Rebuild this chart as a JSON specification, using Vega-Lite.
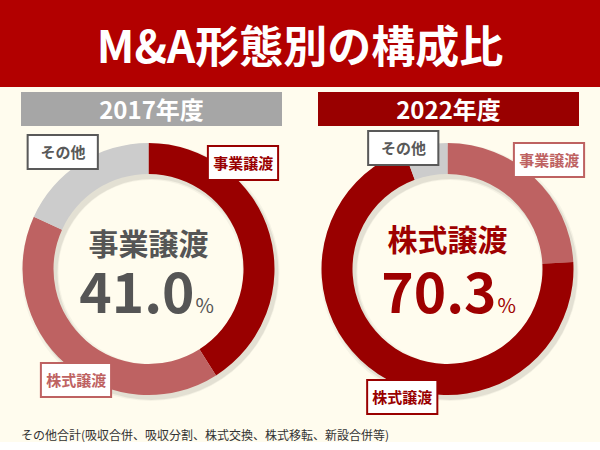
{
  "$schema": "https://vega.github.io/schema/vega-lite/v6.json",
  "background": "#fffcee",
  "padding": 0,
  "config": {"view": {"stroke": null}, "font": "Noto Sans CJK JP", "text": {"font": "Noto Sans CJK JP"}},
  "datasets": {
    "shares": [
      {"year": "2017年度", "category": "事業譲渡", "share": 41.0},
      {"year": "2017年度", "category": "株式譲渡", "share": 40.8},
      {"year": "2017年度", "category": "その他", "share": 18.2},
      {"year": "2022年度", "category": "事業譲渡", "share": 24.1},
      {"year": "2022年度", "category": "株式譲渡", "share": 70.3},
      {"year": "2022年度", "category": "その他", "share": 5.6}
    ]
  },
  "bounds": "flush",
  "spacing": 5,
  "vconcat": [
    {
      "width": 600,
      "height": 87,
      "view": {"fill": "#b20000", "stroke": null},
      "data": {"values": [{"title": "M&A形態別の構成比"}]},
      "mark": {"type": "text", "color": "#ffffff", "fontSize": 44, "fontWeight": "bold", "baseline": "alphabetic", "dy": 19},
      "encoding": {"text": {"field": "title", "type": "nominal"}}
    },
    {
      "columns": 4,
      "align": "each",
      "bounds": "flush",
      "spacing": {"row": 0, "column": 0},
      "resolve": {"scale": {"color": "independent", "theta": "independent"}},
      "concat": [
        {"width": 21, "height": 34, "data": {"values": []}, "mark": "point"},
        {
          "width": 261,
          "height": 34,
          "view": {"fill": "#a6a6a6", "stroke": null},
          "data": {"name": "shares"},
          "transform": [{"filter": "datum.year === '2017年度'"}, {"aggregate": [{"op": "count", "as": "n"}], "groupby": ["year"]}],
          "mark": {"type": "text", "color": "#ffffff", "fontSize": 24, "fontWeight": "bold", "baseline": "alphabetic", "dy": 10},
          "encoding": {"text": {"field": "year", "type": "nominal"}}
        },
        {"width": 36, "height": 34, "data": {"values": []}, "mark": "point"},
        {
          "width": 261,
          "height": 34,
          "view": {"fill": "#990000", "stroke": null},
          "data": {"name": "shares"},
          "transform": [{"filter": "datum.year === '2022年度'"}, {"aggregate": [{"op": "count", "as": "n"}], "groupby": ["year"]}],
          "mark": {"type": "text", "color": "#ffffff", "fontSize": 24, "fontWeight": "bold", "baseline": "alphabetic", "dy": 10},
          "encoding": {"text": {"field": "year", "type": "nominal"}}
        },
        {"width": 21, "height": 286, "data": {"values": []}, "mark": "point"},
        {
          "width": 255,
          "height": 286,
          "title": {
            "text": "その他合計(吸収合併、吸収分割、株式交換、株式移転、新設合併等)",
            "orient": "bottom",
            "anchor": "start",
            "frame": "group",
            "baseline": "top",
            "offset": 9,
            "fontSize": 12,
            "fontWeight": "normal",
            "color": "#333333",
            "font": "Noto Sans CJK JP"
          },
          "data": {"name": "shares"},
          "transform": [{"filter": "datum.year === '2017年度'"}, {"window": [{"op": "row_number", "as": "idx"}]}],
          "layer": [
            {
              "transform": [{"aggregate": [{"op": "sum", "field": "share", "as": "total"}]}],
              "mark": {"type": "arc", "outerRadius": 129, "innerRadius": 92, "xOffset": 2, "yOffset": 3, "color": "#000000", "opacity": 0.04},
              "encoding": {"theta": {"field": "total", "type": "quantitative"}}
            },
            {
              "transform": [{"aggregate": [{"op": "sum", "field": "share", "as": "total"}]}],
              "mark": {"type": "arc", "outerRadius": 127, "innerRadius": 94, "xOffset": 3, "yOffset": 4, "color": "#000000", "opacity": 0.07},
              "encoding": {"theta": {"field": "total", "type": "quantitative"}}
            },
            {
              "mark": {"type": "arc", "outerRadius": 126, "innerRadius": 95},
              "encoding": {
                "theta": {"field": "share", "type": "quantitative", "stack": true},
                "order": {"field": "idx", "type": "quantitative"},
                "color": {"field": "category", "type": "nominal", "legend": null,
                  "scale": {"domain": ["事業譲渡", "株式譲渡", "その他"], "range": ["#990000", "#be6262", "#cccccc"]}}
              }
            },
            {
              "transform": [{"window": [{"op": "rank", "as": "rk"}], "sort": [{"field": "share", "order": "descending"}]}, {"filter": "datum.rk === 1"}],
              "layer": [
                {
                  "mark": {"type": "text", "fontSize": 30, "fontWeight": "bold", "color": "#555555", "baseline": "alphabetic", "dy": -14},
                  "encoding": {"text": {"field": "category", "type": "nominal"}}
                },
                {
                  "mark": {"type": "text", "fontSize": 55, "fontWeight": "bold", "color": "#555555", "baseline": "alphabetic", "align": "right", "dx": 46, "dy": 44},
                  "encoding": {"text": {"field": "share", "type": "quantitative", "format": ".1f"}}
                },
                {
                  "mark": {"type": "text", "text": "%", "fontSize": 20, "color": "#555555", "baseline": "alphabetic", "align": "left", "dx": 47, "dy": 44},
                  "encoding": {"detail": {"field": "category", "type": "nominal"}}
                }
              ]
            },
            {
              "transform": [
                {"stack": "share", "groupby": [], "sort": [{"field": "idx", "order": "ascending"}], "as": ["s0", "s1"]},
                {"fold": ["s0", "s0", "s0", "s0", "s0", "s1", "s1"]},
                {"aggregate": [{"op": "mean", "field": "value", "as": "pos"}], "groupby": ["category"]},
                {"filter": "datum.category === '事業譲渡'"}
              ],
              "encoding": {"theta": {"field": "pos", "type": "quantitative", "stack": null}},
              "layer": [
                {"mark": {"type": "text", "text": "▬", "font": "DejaVu Sans", "fontSize": 92, "fill": "#ffffff", "stroke": "#990000", "strokeWidth": 2, "baseline": "middle", "radius": 141, "dy": -5}},
                {"mark": {"type": "text", "fontSize": 15, "fontWeight": "bold", "color": "#990000", "baseline": "middle", "radius": 141}, "encoding": {"text": {"field": "category", "type": "nominal"}}}
              ]
            },
            {
              "transform": [
                {"stack": "share", "groupby": [], "sort": [{"field": "idx", "order": "ascending"}], "as": ["s0", "s1"]},
                {"fold": ["s0", "s0", "s0", "s0", "s0", "s1", "s1", "s1", "s1"]},
                {"aggregate": [{"op": "mean", "field": "value", "as": "pos"}], "groupby": ["category"]},
                {"filter": "datum.category === '株式譲渡'"}
              ],
              "encoding": {"theta": {"field": "pos", "type": "quantitative", "stack": null}},
              "layer": [
                {"mark": {"type": "text", "text": "▬", "font": "DejaVu Sans", "fontSize": 92, "fill": "#ffffff", "stroke": "#be6262", "strokeWidth": 2, "baseline": "middle", "radius": 133, "dy": -5}},
                {"mark": {"type": "text", "fontSize": 15, "fontWeight": "bold", "color": "#be6262", "baseline": "middle", "radius": 133}, "encoding": {"text": {"field": "category", "type": "nominal"}}}
              ]
            },
            {
              "transform": [
                {"stack": "share", "groupby": [], "sort": [{"field": "idx", "order": "ascending"}], "as": ["s0", "s1"]},
                {"fold": ["s0", "s0", "s0", "s0", "s0", "s1", "s1", "s1", "s1"]},
                {"aggregate": [{"op": "mean", "field": "value", "as": "pos"}], "groupby": ["category"]},
                {"filter": "datum.category === 'その他'"}
              ],
              "encoding": {"theta": {"field": "pos", "type": "quantitative", "stack": null}},
              "layer": [
                {"mark": {"type": "text", "text": "▬", "font": "DejaVu Sans", "fontSize": 92, "fill": "#ffffff", "stroke": "#595959", "strokeWidth": 2, "baseline": "middle", "radius": 144, "dy": -5}},
                {"mark": {"type": "text", "fontSize": 15, "fontWeight": "bold", "color": "#595959", "baseline": "middle", "radius": 144}, "encoding": {"text": {"field": "category", "type": "nominal"}}}
              ]
            }
          ]
        },
        {"width": 36, "height": 286, "data": {"values": []}, "mark": "point"},
        {
          "width": 259,
          "height": 286,
          "data": {"name": "shares"},
          "transform": [{"filter": "datum.year === '2022年度'"}, {"window": [{"op": "row_number", "as": "idx"}]}],
          "layer": [
            {
              "transform": [{"aggregate": [{"op": "sum", "field": "share", "as": "total"}]}],
              "mark": {"type": "arc", "outerRadius": 129, "innerRadius": 92, "xOffset": 2, "yOffset": 3, "color": "#000000", "opacity": 0.04},
              "encoding": {"theta": {"field": "total", "type": "quantitative"}}
            },
            {
              "transform": [{"aggregate": [{"op": "sum", "field": "share", "as": "total"}]}],
              "mark": {"type": "arc", "outerRadius": 127, "innerRadius": 94, "xOffset": 3, "yOffset": 4, "color": "#000000", "opacity": 0.07},
              "encoding": {"theta": {"field": "total", "type": "quantitative"}}
            },
            {
              "mark": {"type": "arc", "outerRadius": 126, "innerRadius": 95},
              "encoding": {
                "theta": {"field": "share", "type": "quantitative", "stack": true},
                "order": {"field": "idx", "type": "quantitative"},
                "color": {"field": "category", "type": "nominal", "legend": null,
                  "scale": {"domain": ["事業譲渡", "株式譲渡", "その他"], "range": ["#be6262", "#990000", "#cccccc"]}}
              }
            },
            {
              "transform": [{"window": [{"op": "rank", "as": "rk"}], "sort": [{"field": "share", "order": "descending"}]}, {"filter": "datum.rk === 1"}],
              "layer": [
                {
                  "mark": {"type": "text", "fontSize": 30, "fontWeight": "bold", "color": "#9e0000", "baseline": "alphabetic", "dy": -18},
                  "encoding": {"text": {"field": "category", "type": "nominal"}}
                },
                {
                  "mark": {"type": "text", "fontSize": 55, "fontWeight": "bold", "color": "#9e0000", "baseline": "alphabetic", "align": "right", "dx": 49, "dy": 44},
                  "encoding": {"text": {"field": "share", "type": "quantitative", "format": ".1f"}}
                },
                {
                  "mark": {"type": "text", "text": "%", "fontSize": 20, "color": "#9e0000", "baseline": "alphabetic", "align": "left", "dx": 50, "dy": 44},
                  "encoding": {"detail": {"field": "category", "type": "nominal"}}
                }
              ]
            },
            {
              "transform": [
                {"stack": "share", "groupby": [], "sort": [{"field": "idx", "order": "ascending"}], "as": ["s0", "s1"]},
                {"fold": ["s0", "s1"]},
                {"aggregate": [{"op": "mean", "field": "value", "as": "pos"}], "groupby": ["category"]},
                {"filter": "datum.category === '事業譲渡'"}
              ],
              "encoding": {"theta": {"field": "pos", "type": "quantitative", "stack": null}},
              "layer": [
                {"mark": {"type": "text", "text": "▬", "font": "DejaVu Sans", "fontSize": 92, "fill": "#ffffff", "stroke": "#be6262", "strokeWidth": 2, "baseline": "middle", "radius": 148, "dy": -5}},
                {"mark": {"type": "text", "fontSize": 15, "fontWeight": "bold", "color": "#be6262", "baseline": "middle", "radius": 148}, "encoding": {"text": {"field": "category", "type": "nominal"}}}
              ]
            },
            {
              "transform": [
                {"stack": "share", "groupby": [], "sort": [{"field": "idx", "order": "ascending"}], "as": ["s0", "s1"]},
                {"fold": ["s0", "s0", "s0", "s0", "s0", "s1", "s1", "s1", "s1"]},
                {"aggregate": [{"op": "mean", "field": "value", "as": "pos"}], "groupby": ["category"]},
                {"filter": "datum.category === '株式譲渡'"}
              ],
              "encoding": {"theta": {"field": "pos", "type": "quantitative", "stack": null}},
              "layer": [
                {"mark": {"type": "text", "text": "▬", "font": "DejaVu Sans", "fontSize": 92, "fill": "#ffffff", "stroke": "#990000", "strokeWidth": 2, "baseline": "middle", "radius": 137, "dy": -5}},
                {"mark": {"type": "text", "fontSize": 15, "fontWeight": "bold", "color": "#990000", "baseline": "middle", "radius": 137}, "encoding": {"text": {"field": "category", "type": "nominal"}}}
              ]
            },
            {
              "transform": [
                {"stack": "share", "groupby": [], "sort": [{"field": "idx", "order": "ascending"}], "as": ["s0", "s1"]},
                {"filter": "datum.category === 'その他'"}
              ],
              "encoding": {"theta": {"field": "s0", "type": "quantitative", "stack": null}},
              "layer": [
                {"mark": {"type": "text", "text": "▬", "font": "DejaVu Sans", "fontSize": 92, "fill": "#ffffff", "stroke": "#595959", "strokeWidth": 2, "baseline": "middle", "radius": 128, "dy": -5}},
                {"mark": {"type": "text", "fontSize": 15, "fontWeight": "bold", "color": "#595959", "baseline": "middle", "radius": 128}, "encoding": {"text": {"field": "category", "type": "nominal"}}}
              ]
            }
          ]
        }
      ]
    }
  ]
}
